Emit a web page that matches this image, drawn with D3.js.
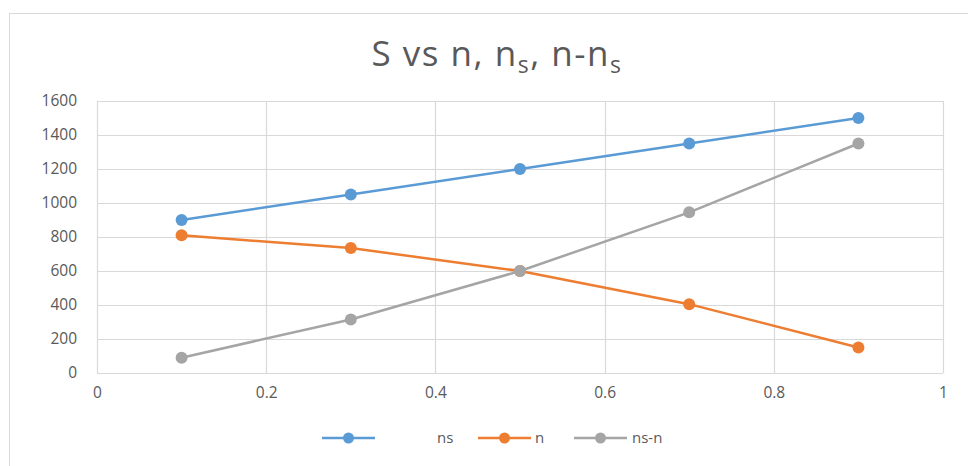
<!DOCTYPE html>
<html lang="en">
<head>
<meta charset="utf-8">
<script src="https://d3js.org/d3.v7.min.js"></script>
<style>
  body { margin: 0; background: #fff; }
  text { font-family: "Open Sans", "Liberation Sans", sans-serif; }
</style>
</head>
<body>
<script>
// data
var sValues = [0.1, 0.3, 0.5, 0.7, 0.9];
var nsValues = [900, 1050, 1200, 1350, 1500];
var nValues = [810, 735, 600, 405, 150];
var nsMinusNValues = [90, 315, 600, 945, 1350];
var xTicks = [0, 0.2, 0.4, 0.6, 0.8, 1];
var yTicks = [0, 200, 400, 600, 800, 1000, 1200, 1400, 1600];
var seriesNames = ["ns", "n", "ns-n"];
var seriesColors = ["#5b9bd5", "#ed7d31", "#a5a5a5"];

var series = [nsValues, nValues, nsMinusNValues].map(function (vals, i) {
	return {
		name: seriesNames[i],
		color: seriesColors[i],
		points: vals.map(function (v, j) { return {x: sValues[j], y: v}; })
	};
});

var W = 968, H = 466;
var svg = d3.select("body").append("svg")
	.attr("width", W)
	.attr("height", H);

// outer chart frame
svg.append("rect")
	.attr("x", 9.5).attr("y", 13.5)
	.attr("width", W + 10).attr("height", H + 10)
	.attr("fill", "#fff")
	.attr("stroke", "#d9d9d9");

var margin = {left: 97, right: 968 - 943, top: 101, bottom: 466 - 373};
var width = W - margin.left - margin.right,
	height = H - margin.top - margin.bottom;

var x = d3.scaleLinear().domain([0, 1]).range([0, width]);
var y = d3.scaleLinear().domain([0, 1600]).range([height, 0]);

var g = svg.append("g")
	.attr("transform", "translate(" + margin.left + "," + margin.top + ")");

// gridlines
g.selectAll(".hgrid").data(yTicks).enter().append("line")
	.attr("x1", 0).attr("x2", width)
	.attr("y1", function (d) { return Math.round(y(d)) + 0.5; })
	.attr("y2", function (d) { return Math.round(y(d)) + 0.5; })
	.attr("stroke", "#d9d9d9").attr("stroke-width", 1.2);
g.selectAll(".vgrid").data(xTicks).enter().append("line")
	.attr("y1", 0).attr("y2", height)
	.attr("x1", function (d) { return Math.round(x(d)) + 0.5; })
	.attr("x2", function (d) { return Math.round(x(d)) + 0.5; })
	.attr("stroke", "#d9d9d9").attr("stroke-width", 1.2);

// axes (labels only)
var yAxis = g.append("g")
	.call(d3.axisLeft(y).tickValues(yTicks).tickSize(0).tickPadding(20)
		.tickFormat(d3.format("d")));
yAxis.select(".domain").remove();
yAxis.selectAll("text")
	.attr("fill", "#595959")
	.style("font-size", "15.5px");

var xAxis = g.append("g")
	.attr("transform", "translate(0," + height + ")")
	.call(d3.axisBottom(x).tickValues(xTicks).tickSize(0).tickPadding(14)
		.tickFormat(d3.format("")));
xAxis.select(".domain").remove();
xAxis.selectAll("text")
	.attr("fill", "#595959")
	.style("font-size", "15.5px");

// lines and markers
var line = d3.line()
	.x(function (d) { return x(d.x); })
	.y(function (d) { return y(d.y); });

series.forEach(function (s) {
	g.append("path")
		.datum(s.points)
		.attr("fill", "none")
		.attr("stroke", s.color)
		.attr("stroke-width", 2.5)
		.attr("d", line);
	g.selectAll(null).data(s.points).enter().append("circle")
		.attr("cx", function (d) { return x(d.x); })
		.attr("cy", function (d) { return y(d.y); })
		.attr("r", 6)
		.attr("fill", s.color);
});

// title with subscripts
var title = svg.append("text")
	.attr("x", 497).attr("y", 66)
	.attr("text-anchor", "middle")
	.attr("fill", "#595959")
	.style("font-size", "35px")
	.style("letter-spacing", "1.5px");
title.append("tspan").text("S vs n, n");
title.append("tspan").attr("dy", 7).style("font-size", "23px").text("s");
title.append("tspan").attr("dy", -7).text(", n-n");
title.append("tspan").attr("dy", 7).style("font-size", "23px").text("s");

// legend
var legendItems = [
	{lx: 322, tx: 437},
	{lx: 478, tx: 535},
	{lx: 574, tx: 632}
];
var legend = svg.append("g");
legendItems.forEach(function (it, i) {
	var ly = 438;
	legend.append("line")
		.attr("x1", it.lx).attr("x2", it.lx + 53)
		.attr("y1", ly).attr("y2", ly)
		.attr("stroke", seriesColors[i]).attr("stroke-width", 2.5);
	legend.append("circle")
		.attr("cx", it.lx + 26.5).attr("cy", ly).attr("r", 5.5)
		.attr("fill", seriesColors[i]);
	legend.append("text")
		.attr("x", it.tx).attr("y", ly + 5)
		.attr("fill", "#595959")
		.style("font-size", "15px")
		.text(seriesNames[i]);
});
</script>
</body>
</html>
